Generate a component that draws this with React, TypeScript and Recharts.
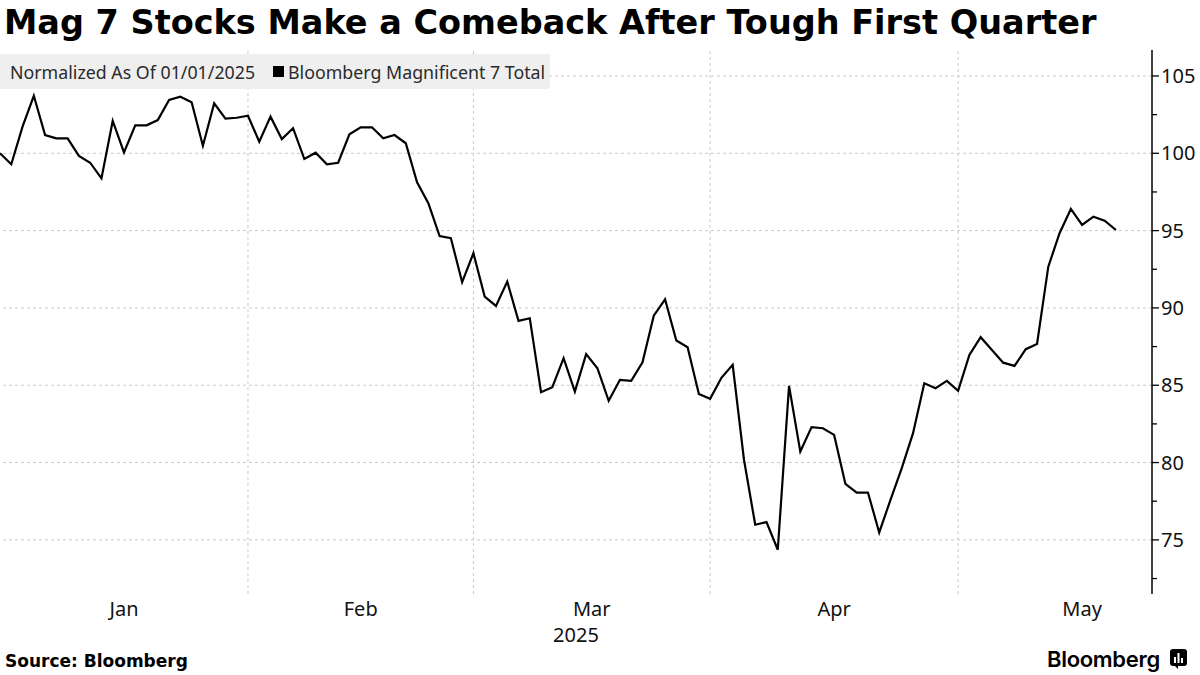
import React from 'react';
import { LineChart, Line, XAxis, YAxis, ReferenceLine } from 'recharts';

// Trading-day calendar (weekdays, holidays included) — 2025
const janDays = [1, 2, 3, 6, 7, 8, 9, 10, 13, 14, 15, 16, 17, 20, 21, 22, 23, 24, 27, 28, 29, 30, 31];
const febDays = [3, 4, 5, 6, 7, 10, 11, 12, 13, 14, 17, 18, 19, 20, 21, 24, 25, 26, 27, 28];
const marDays = [3, 4, 5, 6, 7, 10, 11, 12, 13, 14, 17, 18, 19, 20, 21, 24, 25, 26, 27, 28, 31];
const aprDays = [1, 2, 3, 4, 7, 8, 9, 10, 11, 14, 15, 16, 17, 18, 21, 22, 23, 24, 25, 28, 29, 30];
const mayDays = [1, 2, 5, 6, 7, 8, 9, 12, 13, 14, 15, 16, 19, 20];

const monthNames = ['Jan', 'Feb', 'Mar', 'Apr', 'May'];
const yearLabel = '2025';
const year = 2025;

// Bloomberg Magnificent 7 Total, normalized to 100 as of 01/01/2025
const mag7Values = [
  100.0, 99.29, 101.72, 103.72, 101.18, 100.97, 100.97, 99.83, 99.39, 98.38,
  102.09, 100.06, 101.81, 101.81, 102.15, 103.45, 103.66, 103.3, 100.49, 103.23,
  102.24, 102.3, 102.43, 100.75, 102.37, 100.92, 101.62, 99.63, 100.04, 99.29,
  99.39, 101.23, 101.68, 101.68, 100.97, 101.18, 100.65, 98.13, 96.77, 94.65,
  94.51, 91.66, 93.54, 90.73, 90.13, 91.7, 89.16, 89.33, 84.55, 84.87,
  86.75, 84.59, 87.01, 86.1, 83.99, 85.35, 85.28, 86.49, 89.5, 90.56,
  87.89, 87.46, 84.44, 84.12, 85.48, 86.32, 80.2, 75.98, 76.15, 74.36,
  84.96, 80.71, 82.29, 82.22, 81.79, 78.62, 78.06, 78.06, 75.48, 77.59,
  79.64, 81.9, 85.13, 84.81, 85.28, 84.64, 86.96, 88.11, 87.28, 86.46,
  86.25, 87.33, 87.67, 92.67, 94.83, 96.4, 95.37, 95.9, 95.64, 95.04,
];

const yMajorTicks = [75, 80, 85, 90, 95, 100, 105];
const yMinorTicks = [72.5, 77.5, 82.5, 87.5, 92.5, 97.5, 102.5];

const title = 'Mag 7 Stocks Make a Comeback After Tough First Quarter';
const legendPrefix = 'Normalized As Of 01/01/2025';
const seriesName = 'Bloomberg Magnificent 7 Total';
const sourceText = 'Source: Bloomberg';
const brandText = 'Bloomberg';

const X_MAX = 102.2;
const Y_MIN = 71.5;
const Y_MAX = 106.68;

const monthDays = [janDays, febDays, marDays, aprDays, mayDays];

const data: { i: number; date: string; v: number }[] = [];
{
  let idx = 0;
  monthDays.forEach((days, m) => {
    days.forEach((d) => {
      data.push({ i: idx, date: `${year}-${m + 1}-${d}`, v: mag7Values[idx] });
      idx++;
    });
  });
}

function weekdaysInMonth(y: number, m: number) {
  const n = new Date(y, m + 1, 0).getDate();
  let c = 0;
  for (let d = 1; d <= n; d++) {
    const wd = new Date(y, m, d).getDay();
    if (wd !== 0 && wd !== 6) c++;
  }
  return c;
}

// Month boundaries in the weekday-index space
const monthStarts: number[] = [];
const monthEnds: number[] = [];
{
  let first = 0;
  monthDays.forEach((days, m) => {
    const start = first - 1;
    monthStarts.push(start);
    monthEnds.push(start + weekdaysInMonth(year, m));
    first += days.length;
  });
}
const boundaries = monthStarts.slice(1);
const monthCenters = monthNames.map((_, m) => {
  const a = Math.max(0, monthStarts[m]);
  const b = monthEnds[m];
  return (a + b) / 2;
});
const yearCenter = X_MAX / 2;

const tickInfo = new Map<number, { text: string; row: number }>();
monthCenters.forEach((c, m) => tickInfo.set(c, { text: monthNames[m], row: 0 }));
tickInfo.set(yearCenter, { text: yearLabel, row: 1 });
const xTicks = [...monthCenters, yearCenter];

const tickFont = "'Noto Sans', sans-serif";

const XTick = (props: any) => {
  const { x, y, payload } = props;
  const info = tickInfo.get(payload.value);
  if (!info) return null;
  return (
    <text
      x={x}
      y={y + (info.row === 0 ? 22 : 48)}
      textAnchor="middle"
      fontFamily={tickFont}
      fontSize={20}
      fill="#111"
    >
      {info.text}
    </text>
  );
};

const YTick = (props: any) => {
  const { x, y, payload } = props;
  const major = yMajorTicks.includes(payload.value);
  return (
    <g>
      <line x1={x} x2={x + (major ? 7 : 5)} y1={y} y2={y} stroke="#000" strokeWidth={1.3} />
      {major && (
        <text x={x + 9} y={y + 7} fontFamily={tickFont} fontSize={20} fill="#111">
          {payload.value}
        </text>
      )}
    </g>
  );
};

export default function App() {
  return (
    <div
      style={{
        position: 'absolute',
        left: 0,
        top: 0,
        width: 1200,
        height: 675,
        background: '#fff',
        overflow: 'hidden',
      }}
    >
      <div
        style={{
          position: 'absolute',
          left: 4,
          top: 0,
          fontFamily: "'DejaVu Sans', sans-serif",
          fontWeight: 700,
          fontSize: 33.5,
          lineHeight: '46px',
          color: '#000',
          whiteSpace: 'nowrap',
        }}
      >
        {title}
      </div>
      <LineChart
        width={1200}
        height={675}
        data={data}
        margin={{ top: 50, right: 0, bottom: 0, left: 0 }}
        style={{ position: 'absolute', left: 0, top: 0 }}
      >
        {yMajorTicks.map((t) => (
          <ReferenceLine key={'h' + t} y={t} stroke="#c9c9c9" strokeDasharray="3 3" strokeWidth={1} />
        ))}
        {boundaries.map((b) => (
          <ReferenceLine key={'v' + b} x={b} stroke="#c9c9c9" strokeDasharray="3 3" strokeWidth={1} />
        ))}
        <XAxis
          type="number"
          dataKey="i"
          domain={[0, X_MAX]}
          ticks={xTicks}
          tick={<XTick />}
          tickLine={false}
          axisLine={false}
          tickSize={0}
          tickMargin={0}
          height={81}
          interval={0}
          allowDataOverflow
        />
        <YAxis
          orientation="right"
          type="number"
          domain={[Y_MIN, Y_MAX]}
          ticks={[...yMinorTicks, ...yMajorTicks].sort((a, b) => a - b)}
          tick={<YTick />}
          tickLine={false}
          tickSize={0}
          tickMargin={0}
          axisLine={{ stroke: '#000', strokeWidth: 1.5 }}
          width={48}
          interval={0}
          allowDataOverflow
        />
        <Line
          type="linear"
          dataKey="v"
          stroke="#000"
          strokeWidth={2.2}
          dot={false}
          isAnimationActive={false}
        />
      </LineChart>
      <div
        style={{
          position: 'absolute',
          left: 0,
          top: 54,
          width: 550,
          height: 35,
          background: '#efefef',
          borderRadius: 2,
          display: 'flex',
          alignItems: 'center',
          fontFamily: tickFont,
          fontSize: 17.8,
          color: '#2a2a2a',
          whiteSpace: 'nowrap',
        }}
      >
        <span style={{ marginLeft: 10 }}>{legendPrefix}</span>
        <span
          style={{
            display: 'inline-block',
            width: 11,
            height: 11,
            background: '#000',
            marginLeft: 18,
            marginRight: 4,
          }}
        />
        <span>{seriesName}</span>
      </div>
      <div
        style={{
          position: 'absolute',
          left: 5,
          top: 650,
          fontFamily: "'DejaVu Sans', sans-serif",
          fontWeight: 700,
          fontSize: 17,
          lineHeight: '22px',
          color: '#000',
          whiteSpace: 'nowrap',
        }}
      >
        {sourceText}
      </div>
      <div
        style={{
          position: 'absolute',
          left: 1047,
          top: 645,
          display: 'flex',
          alignItems: 'center',
          whiteSpace: 'nowrap',
        }}
      >
        <span
          style={{
            fontFamily: "Inter, sans-serif",
            fontWeight: 600,
            fontSize: 22,
            lineHeight: '28px',
            color: '#000',
            letterSpacing: -0.3,
          }}
        >
          {brandText}
        </span>
        <svg width={18} height={20} style={{ marginLeft: 10 }}>
          <rect x={0} y={0} width={17} height={17} rx={3} fill="#000" />
          <path d="M5 17 L8 20 L8 17 Z" fill="#000" />
          <rect x={4} y={8} width={2} height={6} fill="#fff" />
          <rect x={7.5} y={4} width={2} height={10} fill="#fff" />
          <rect x={11} y={9} width={2} height={5} fill="#fff" />
        </svg>
      </div>
    </div>
  );
}
